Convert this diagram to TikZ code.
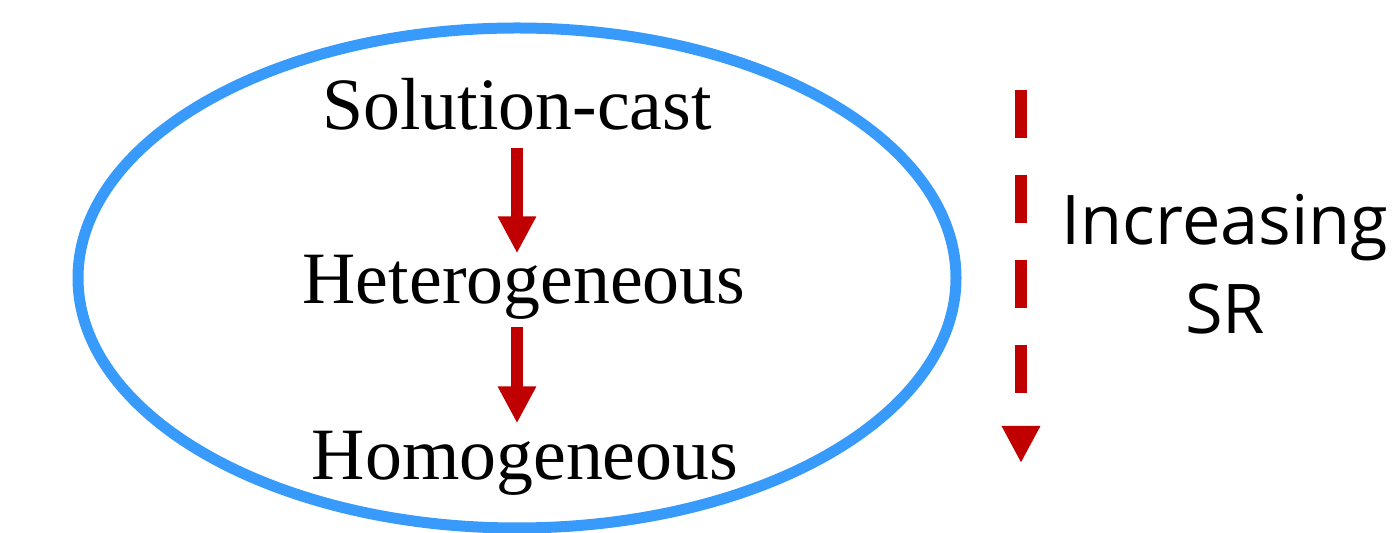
\documentclass[tikz,border=0pt]{standalone}
\usepackage{fontspec}
\setmainfont{Liberation Serif}
\newfontfamily\labelsans{Open Sans}
\usepackage{xcolor}
\usepackage{tikz}
\usetikzlibrary{arrows.meta}
\definecolor{ringblue}{RGB}{56,154,250}
\definecolor{arrowred}{RGB}{192,0,0}

\begin{document}
\begin{tikzpicture}[
    stage/.style={inner sep=0pt, anchor=base, font=\fontsize{42}{50}\selectfont},
    ring/.style={draw=ringblue, line width=0.22cm},
    flow/.style={draw=arrowred, line width=0.24cm, -{Triangle[width=0.72cm, length=0.74cm]}},
    trend/.style={flow, dash pattern=on 0.96cm off 0.74cm},
    trendlabel/.style={inner sep=0pt, align=center, font=\labelsans\fontsize{39}{51}\selectfont}
]
\useasboundingbox (0,0) rectangle (27.88,10.66);
\draw[ring] (10.34,5.10) ellipse [x radius=8.78cm, y radius=5.00cm];
\node[stage] (cast) at (10.34,8.06) {Solution-cast};
\node[stage] (hetero) at (10.48,4.58) {Heterogeneous};
\node[stage] (homo) at (10.50,1.06) {Homogeneous};
\draw[flow, shorten <=0.34cm, shorten >=0.04cm] (cast.south) -- (cast.south |- hetero.north);
\draw[flow, shorten <=0.14cm, shorten >=0.16cm] (cast.south |- hetero.south) -- (cast.south |- homo.north);
\coordinate (trendtop) at (20.42,8.86);
\coordinate (trendend) at (20.42,1.40);
\draw[trend] (trendtop) -- (trendend);
\node[trendlabel, anchor=base] (trendtext) at (24.50,3.98) {Increasing\\SR};
\end{tikzpicture}
\end{document}
